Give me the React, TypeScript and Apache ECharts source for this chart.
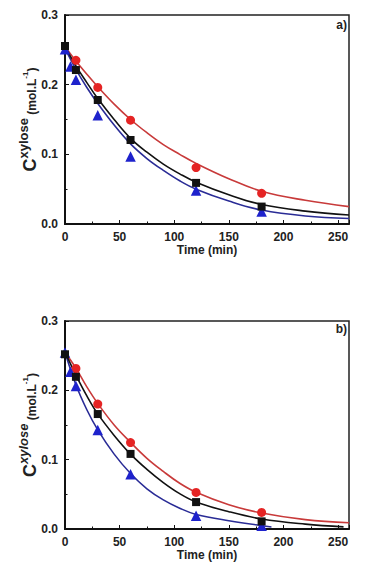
import React, { useEffect, useRef } from "react";
import * as echarts from "echarts";

// ---- Panel a) ----
const aSquareT = [0, 10, 30, 60, 120, 180];
const aSquareV = [0.2555, 0.221, 0.178, 0.1206, 0.059, 0.025];
const aCircleT = [10, 30, 60, 120, 180];
const aCircleV = [0.235, 0.196, 0.149, 0.081, 0.044];
const aTriT = [0, 5, 10, 30, 60, 120, 180];
const aTriV = [0.251, 0.226, 0.207, 0.156, 0.097, 0.048, 0.018];

const aRedCurveT = [0, 10, 20, 30, 45, 60, 75, 90, 105, 120, 150, 180, 220, 260];
const aRedCurveV = [0.255, 0.234, 0.215, 0.197, 0.172, 0.150, 0.131, 0.114, 0.100, 0.087, 0.065, 0.047, 0.034, 0.025];
const aBlackCurveT = [0, 10, 20, 30, 45, 60, 75, 90, 105, 120, 150, 180, 220, 260];
const aBlackCurveV = [0.255, 0.227, 0.203, 0.180, 0.150, 0.123, 0.103, 0.086, 0.072, 0.060, 0.042, 0.028, 0.0185, 0.013];
const aBlueCurveT = [0, 10, 20, 30, 45, 60, 75, 90, 105, 120, 150, 180, 220, 260];
const aBlueCurveV = [0.252, 0.222, 0.196, 0.173, 0.142, 0.115, 0.094, 0.077, 0.062, 0.050, 0.033, 0.020, 0.0115, 0.008];

// ---- Panel b) ----
const bSquareT = [0, 10, 30, 60, 120, 180];
const bSquareV = [0.252, 0.2195, 0.1658, 0.1083, 0.0388, 0.011];
const bCircleT = [10, 30, 60, 120, 180];
const bCircleV = [0.2315, 0.1802, 0.1246, 0.0527, 0.0239];
const bTriT = [0, 5, 10, 30, 60, 120, 180];
const bTriV = [0.2546, 0.2267, 0.2061, 0.1428, 0.079, 0.0191, 0.0047];

const bRedCurveT = [0, 10, 20, 30, 45, 60, 75, 90, 105, 120, 150, 180, 220, 260];
const bRedCurveV = [0.255, 0.232, 0.205, 0.181, 0.150, 0.125, 0.102, 0.083, 0.066, 0.053, 0.035, 0.023, 0.0135, 0.009];
const bBlackCurveT = [0, 10, 20, 30, 45, 60, 75, 90, 105, 120, 150, 180, 220, 255];
const bBlackCurveV = [0.255, 0.222, 0.192, 0.166, 0.135, 0.108, 0.086, 0.067, 0.051, 0.039, 0.025, 0.0145, 0.007, 0.003];
const bBlueCurveT = [0, 10, 20, 30, 45, 60, 75, 90, 105, 120, 150, 189];
const bBlueCurveV = [0.255, 0.208, 0.172, 0.143, 0.108, 0.080, 0.058, 0.042, 0.030, 0.021, 0.012, 0.003];

const xTicks = ["0", "50", "100", "150", "200", "250"];
const yTicks = ["0.0", "0.1", "0.2", "0.3"];
const panelLabels = ["a)", "b)"];

const RED = "#e52424";
const RED_LINE = "#c83a3a";
const BLUE = "#1e22cc";
const BLUE_LINE = "#2a2c96";
const BLACK = "#111111";
const FONT = "Liberation Sans, Arial, sans-serif";

const zip = (t: number[], v: number[]) => t.map((x, i) => [x, v[i]]);

export default function App() {
  const ref = useRef<HTMLDivElement>(null);
  useEffect(() => {
    if (!ref.current) return;
    const chart = echarts.init(ref.current, null, { renderer: "svg" });
    const grids = [
      { left: 65, top: 15, width: 284, height: 209 },
      { left: 65, top: 321, width: 284, height: 208 },
    ];
    const xAxes: any[] = [];
    const yAxes: any[] = [];
    grids.forEach((_, gi) => {
      xAxes.push({
        type: "value",
        gridIndex: gi,
        position: "bottom",
        min: 0,
        max: 260,
        interval: 50,
        name: "Time (min)",
        nameLocation: "middle",
        nameGap: 20,
        nameMoveOverlap: false,
        nameTextStyle: { fontFamily: FONT, fontWeight: "bold", fontSize: 12, color: "#222" },
        axisLine: { show: true, lineStyle: { color: "#111", width: 2 } },
        axisTick: { show: true, inside: true, length: 4, lineStyle: { color: "#111", width: 1 } },
        axisLabel: {
          margin: 7,
          fontFamily: FONT,
          fontWeight: "bold",
          fontSize: 12,
          color: "#222",
          formatter: (v: number) => (xTicks.includes(String(v)) ? String(v) : ""),
        },
        splitLine: { show: false },
      });
      xAxes.push({
        type: "value",
        gridIndex: gi,
        position: "bottom",
        min: 0,
        max: 260,
        interval: 25,
        axisLine: { show: false },
        axisTick: { show: true, inside: true, length: 2.5, lineStyle: { color: "#111", width: 1 } },
        axisLabel: { show: false },
        splitLine: { show: false },
      });
      const italic = gi === 1 ? "italic" : "normal";
      yAxes.push({
        type: "value",
        gridIndex: gi,
        min: 0,
        max: 0.3,
        interval: 0.1,
        name: "{c|C}{x|xylose} {u|(mol.L}{s|-1}{u|)}",
        nameLocation: "middle",
        nameRotate: 90,
        nameGap: 26,
        nameMoveOverlap: false,
        nameTextStyle: {
          color: "#222",
          fontFamily: FONT,
          fontWeight: "bold",
          rich: {
            c: { fontSize: 18, fontWeight: "bold", fontFamily: FONT, color: "#222", verticalAlign: "bottom", lineHeight: 22 },
            x: { fontSize: 13, fontWeight: "bold", fontStyle: italic, fontFamily: FONT, color: "#222", verticalAlign: "top", lineHeight: 22 },
            u: { fontSize: 12, fontWeight: "bold", fontFamily: FONT, color: "#222", verticalAlign: "bottom", lineHeight: 22, padding: [0, 0, 1, 0] },
            s: { fontSize: 8, fontWeight: "bold", fontFamily: FONT, color: "#222", verticalAlign: "top", lineHeight: 22, padding: [4, 0, 0, 0] },
          },
        },
        axisLine: { show: true, lineStyle: { color: "#111", width: 2 } },
        axisTick: { show: true, inside: true, length: 4, lineStyle: { color: "#111", width: 1 } },
        minorTick: { show: true, splitNumber: 2, length: 2.5, lineStyle: { color: "#111", width: 1 } },
        axisLabel: {
          margin: 7,
          fontFamily: FONT,
          fontWeight: "bold",
          fontSize: 12,
          color: "#222",
          formatter: (v: number) => yTicks[Math.round(v * 10)] ?? "",
        },
        splitLine: { show: false },
      });
    });

    const panels = [
      {
        sq: zip(aSquareT, aSquareV), ci: zip(aCircleT, aCircleV), tr: zip(aTriT, aTriV),
        rc: zip(aRedCurveT, aRedCurveV), kc: zip(aBlackCurveT, aBlackCurveV), bc: zip(aBlueCurveT, aBlueCurveV),
      },
      {
        sq: zip(bSquareT, bSquareV), ci: zip(bCircleT, bCircleV), tr: zip(bTriT, bTriV),
        rc: zip(bRedCurveT, bRedCurveV), kc: zip(bBlackCurveT, bBlackCurveV), bc: zip(bBlueCurveT, bBlueCurveV),
      },
    ];
    const series: any[] = [];
    panels.forEach((p, gi) => {
      const xi = gi * 2;
      const yi = gi;
      const line = (data: number[][], color: string) => ({
        type: "line", xAxisIndex: xi, yAxisIndex: yi, data, smooth: 0.4, showSymbol: false,
        lineStyle: { color, width: 1.6 }, z: 2,
      });
      const pts = (data: number[][], symbol: string, size: number, color: string, z: number) => ({
        type: "scatter", xAxisIndex: xi, yAxisIndex: yi, data, symbol, symbolSize: size,
        itemStyle: { color, opacity: 1 }, z,
      });
      series.push(line(p.rc, RED_LINE));
      series.push(line(p.bc, BLUE_LINE));
      series.push(line(p.kc, BLACK));
      series.push(pts(p.ci, "circle", 9, RED, 3));
      series.push(pts(p.tr, "triangle", 10.5, BLUE, 4));
      series.push(pts(p.sq, "rect", 8, BLACK, 5));
    });

    chart.setOption({
      animation: false,
      backgroundColor: "#ffffff",
      grid: grids.map((g) => ({ ...g, show: true, borderColor: "#222", borderWidth: 1.5, backgroundColor: "transparent" })),
      xAxis: xAxes,
      yAxis: yAxes,
      series,
      graphic: [
        { type: "text", right: 33, top: 19, style: { text: panelLabels[0], font: `bold 12px ${FONT}`, fill: "#222" } },
        { type: "text", right: 33, top: 323, style: { text: panelLabels[1], font: `bold 12px ${FONT}`, fill: "#222" } },
      ],
    });
    return () => chart.dispose();
  }, []);
  return <div ref={ref} style={{ position: "fixed", left: 0, top: 0, width: 380, height: 573, background: "#fff" }} />;
}
